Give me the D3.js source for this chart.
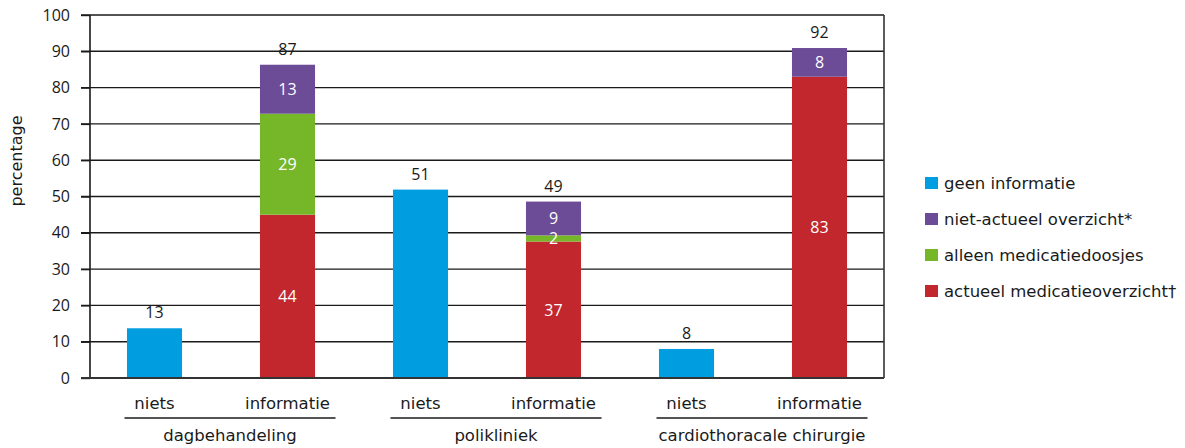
<!DOCTYPE html>
<html>
<head>
<meta charset="utf-8">
<script src="https://cdn.jsdelivr.net/npm/d3@7"></script>
<style>
  body { margin: 0; background: #fff; }
  text { font-family: "Open Sans", "DejaVu Sans", sans-serif; fill: #1a1a1a; }
  text.word { font-family: "DejaVu Sans", sans-serif; }
</style>
</head>
<body>
<div id="chart"></div>
<script>
// data
const groups = ["dagbehandeling", "polikliniek", "cardiothoracale chirurgie"];
const subCats = ["niets", "informatie"];
const seriesNames = ["geen informatie", "niet-actueel overzicht*", "alleen medicatiedoosjes", "actueel medicatieoverzicht\u2020"];
const seriesColors = ["#009ee0", "#6c4c97", "#76b72a", "#c1272d"];

// one value per bar (group x subCat), stacked bottom -> top: geen, actueel, doosjes, niet-actueel
const barGeen    = [13.7, 0, 51.9, 0, 8, 0];
const barActueel = [0, 45, 0, 37.6, 0, 83];
const barDoosjes = [0, 27.8, 0, 1.7, 0, 0];
const barNiet    = [0, 13.5, 0, 9.3, 0, 7.9];

const segLabelsActueel = ["", "44", "", "37", "", "83"];
const segLabelsDoosjes = ["", "29", "", "2", "", ""];
const segLabelsNiet    = ["", "13", "", "9", "", "8"];
const totalLabels = ["13", "87", "51", "49", "8", "92"];

const yTicks = [0, 10, 20, 30, 40, 50, 60, 70, 80, 90, 100];

const W = 1185, H = 448;
const svg = d3.select("#chart").append("svg").attr("width", W).attr("height", H);

const bars = [];
groups.forEach(g => subCats.forEach(s => bars.push({ key: g + "|" + s, group: g, sub: s })));

const x = d3.scaleBand().domain(bars.map(b => b.key)).range([88, 886]).paddingInner(0.586).paddingOuter(0.293);
const y = d3.scaleLinear().domain([0, 100]).range([378, 15]);
const plotLeft = 90, plotRight = 884;

// gridlines
svg.append("g").selectAll("line").data(yTicks.filter(d => d > 0)).join("line")
  .attr("x1", 81).attr("x2", plotRight)
  .attr("y1", d => y(d)).attr("y2", d => y(d))
  .attr("stroke", "#1a1a1a").attr("stroke-width", 1.4);

// y axis
const yAxis = svg.append("g").attr("transform", `translate(${plotLeft},0)`)
  .call(d3.axisLeft(y).tickValues(yTicks).tickSize(9).tickPadding(11));
yAxis.select(".domain").remove();
yAxis.selectAll(".tick line").attr("stroke", "#1a1a1a").attr("stroke-width", 1.4);
yAxis.selectAll(".tick text").attr("font-size", 16).attr("fill", "#1a1a1a")
  .attr("font-family", "'Open Sans', sans-serif").attr("font-weight", 500);

svg.append("text").attr("class", "word").attr("transform", "translate(22,161) rotate(-90)")
  .attr("text-anchor", "middle").attr("font-size", 16).text("percentage");

// stacked bars
const layers = [
  { vals: barGeen, color: seriesColors[0], labels: null },
  { vals: barActueel, color: seriesColors[3], labels: segLabelsActueel },
  { vals: barDoosjes, color: seriesColors[2], labels: segLabelsDoosjes },
  { vals: barNiet, color: seriesColors[1], labels: segLabelsNiet }
];
const base = bars.map(() => 0);
const segs = [];
layers.forEach(layer => {
  bars.forEach((b, i) => {
    const v = layer.vals[i];
    if (v > 0) segs.push({ key: b.key, y0: base[i], y1: base[i] + v, color: layer.color, label: layer.labels ? layer.labels[i] : "" });
    base[i] += v;
  });
});

svg.append("g").selectAll("rect").data(segs).join("rect")
  .attr("x", d => x(d.key)).attr("width", x.bandwidth())
  .attr("y", d => y(d.y1)).attr("height", d => y(d.y0) - y(d.y1))
  .attr("fill", d => d.color);

svg.append("g").selectAll("text").data(segs.filter(d => d.label)).join("text")
  .attr("x", d => x(d.key) + x.bandwidth() / 2)
  .attr("y", d => (y(d.y0) + y(d.y1)) / 2 + 6)
  .attr("text-anchor", "middle").attr("font-size", 16)
  .style("fill", "#fff").text(d => d.label);

svg.append("g").selectAll("text").data(bars).join("text")
  .attr("x", d => x(d.key) + x.bandwidth() / 2)
  .attr("y", (d, i) => y(base[i]) - 10)
  .attr("text-anchor", "middle").attr("font-size", 16).attr("font-weight", 500)
  .text((d, i) => totalLabels[i]);

// frame
svg.append("line").attr("x1", plotLeft).attr("x2", plotLeft).attr("y1", y(100)).attr("y2", y(0))
  .attr("stroke", "#1a1a1a").attr("stroke-width", 1.6);
svg.append("line").attr("x1", plotRight).attr("x2", plotRight).attr("y1", y(100)).attr("y2", y(0))
  .attr("stroke", "#333").attr("stroke-width", 1.6);
svg.append("line").attr("x1", 81).attr("x2", plotRight).attr("y1", y(0)).attr("y2", y(0))
  .attr("stroke", "#333").attr("stroke-width", 2);

// category labels
svg.append("g").selectAll("text").data(bars).join("text")
  .attr("class", "word")
  .attr("x", d => x(d.key) + x.bandwidth() / 2)
  .attr("y", 409).attr("text-anchor", "middle").attr("font-size", 16.5)
  .text(d => d.sub);

// group lines + labels
groups.forEach(g => {
  const c1 = x(g + "|" + subCats[0]) + x.bandwidth() / 2;
  const c2 = x(g + "|" + subCats[1]) + x.bandwidth() / 2;
  svg.append("line").attr("x1", c1 - 30).attr("x2", c2 + 48).attr("y1", 418).attr("y2", 418)
    .attr("stroke", "#1a1a1a").attr("stroke-width", 1.4);
  svg.append("text").attr("class", "word").attr("x", (c1 - 30 + c2 + 48) / 2).attr("y", 441)
    .attr("text-anchor", "middle").attr("font-size", 16.5).text(g);
});

// legend
const legend = svg.append("g").attr("transform", "translate(925,177)");
const lg = legend.selectAll("g").data(seriesNames).join("g")
  .attr("transform", (d, i) => `translate(0,${i * 36})`);
lg.append("rect").attr("width", 13).attr("height", 12).attr("fill", (d, i) => seriesColors[i]);
lg.append("text").attr("class", "word").attr("x", 19).attr("y", 12).attr("font-size", 16.5).text(d => d);
</script>
</body>
</html>
